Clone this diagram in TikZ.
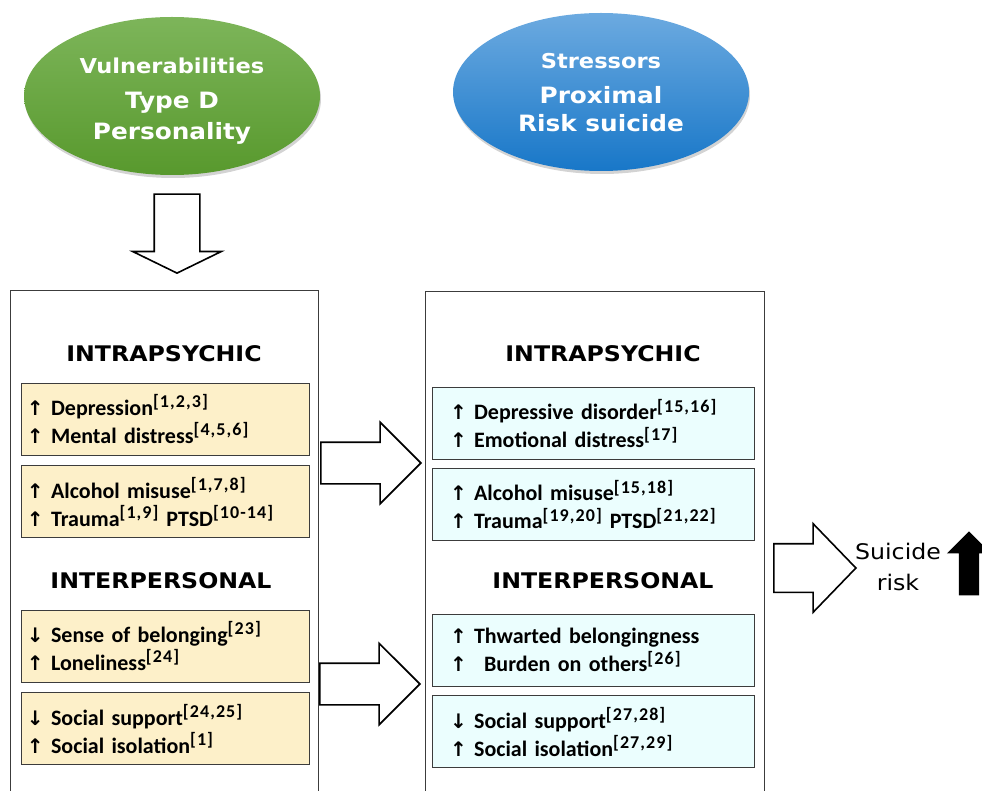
\documentclass[tikz,border=0pt]{standalone}
\usepackage{fontspec}
\setmainfont{Carlito}
\newfontfamily\verdfont{DejaVu Sans}[FakeStretch=1.1]
\newfontfamily\arrfont{DejaVu Sans}
\newfontfamily\supfont{Carlito}[LetterSpace=6]
\usetikzlibrary{positioning, shapes.geometric, shapes.arrows, shadows}
\definecolor{ovgreenA}{HTML}{7DB55A}
\definecolor{ovgreenB}{HTML}{58992D}
\definecolor{ovblueA}{HTML}{6CAAE0}
\definecolor{ovblueB}{HTML}{1877C8}
\definecolor{itemyel}{HTML}{FDF0C9}
\definecolor{itemcyan}{HTML}{EBFEFE}
\definecolor{framegray}{HTML}{3C3C3C}
\newcommand{\uarr}{{\arrfont\bfseries\fontsize{20}{28}\selectfont ↑}}
\newcommand{\darr}{{\arrfont\bfseries\fontsize{20}{28}\selectfont ↓}}
\newcommand{\refsup}[1]{\textsuperscript{\supfont\bfseries\fontsize{18}{18}\selectfont[#1]}}
\tikzset{
  oval/.style   = {ellipse, minimum width=296pt, minimum height=158pt, align=center,
                   text=white, font=\verdfont\bfseries\fontsize{22.5}{30}\selectfont,
                   drop shadow={shadow xshift=1pt, shadow yshift=-3pt, opacity=.35}},
  goval/.style  = {oval, top color=ovgreenA, bottom color=ovgreenB},
  boval/.style  = {oval, top color=ovblueA, bottom color=ovblueB},
  colbox/.style = {draw=framegray, line width=1.3pt, anchor=north west,
                   minimum height=520pt},
  hdr/.style    = {font=\verdfont\bfseries\fontsize{21.5}{26}\selectfont},
  item/.style   = {draw=framegray, line width=0.9pt, minimum height=72pt, align=left,
                   font=\bfseries\fontsize{22}{28}\selectfont},
  yitem/.style  = {item, fill=itemyel, text width=276pt, inner xsep=6pt},
  citem/.style  = {item, fill=itemcyan, text width=286pt, inner xsep=18pt},
  harrow/.style = {single arrow, draw, line width=1.6pt, fill=white, inner xsep=0pt,
                   inner ysep=20pt, single arrow head extend=20pt,
                   minimum height=100pt, anchor=tip}
}

\begin{document}
\begin{tikzpicture}[x=1pt, y=1pt]
  \useasboundingbox (0,0) rectangle (982,-791);
  % the two ovals
  \node[goval] (vuln) at (172,-96)
    {{\fontsize{20.5}{30}\selectfont\rule{0pt}{25pt}Vulnerabilities}\\[5pt]
     Type D\\[1pt] Personality};
  \node[boval] (stress) at (601,-92)
    {{\fontsize{20.5}{30}\selectfont\rule{0pt}{17pt}Stressors}\\[5pt]
     Proximal\\[-2pt] Risk suicide};
  \node[harrow, shape border rotate=270, inner xsep=22pt, inner ysep=22pt,
        single arrow head extend=21.5pt, single arrow tip angle=128,
        minimum height=79pt] (down) at (177,-274) {};

  % columns
  \node[colbox, minimum width=308pt] (lcol) at (10,-290) {};
  \node[colbox, minimum width=339pt] (rcol) at (425,-291) {};

  % left column
  \node[hdr] (lintra) at (164,-354) {INTRAPSYCHIC};
  \node[yitem] (ldep) at (165,-419)
    {\uarr\ Depression\refsup{1,2,3}\\ \uarr\ Mental distress\refsup{4,5,6}};
  \node[yitem, below=10pt of ldep] (lalc)
    {\uarr\ Alcohol misuse\refsup{1,7,8}\\ \uarr\ Trauma\refsup{1,9} PTSD\refsup{10-14}};
  \node[hdr] (linter) at (161,-581) {INTERPERSONAL};
  \node[yitem] (lbel) at (165,-646)
    {\darr\ Sense of belonging\refsup{23}\\ \uarr\ Loneliness\refsup{24}};
  \node[yitem, below=10pt of lbel] (lsoc)
    {\darr\ Social support\refsup{24,25}\\ \uarr\ Social isolation\refsup{1}};

  % right column
  \node[hdr] (rintra) at (603,-354) {INTRAPSYCHIC};
  \node[citem] (rdep) at (593,-423.5)
    {\uarr\ Depressive disorder\refsup{15,16}\\ \uarr\ Emotional distress\refsup{17}};
  \node[citem, below=8pt of rdep] (ralc)
    {\uarr\ Alcohol misuse\refsup{15,18}\\ \uarr\ Trauma\refsup{19,20} PTSD\refsup{21,22}};
  \node[hdr] (rinter) at (603,-581) {INTERPERSONAL};
  \node[citem] (rbel) at (593,-650)
    {\uarr\ Thwarted belongingness\\ \uarr\ \hspace{10pt}Burden on others\refsup{26}};
  \node[citem, below=9pt of rbel] (rsoc)
    {\darr\ Social support\refsup{27,28}\\ \uarr\ Social isolation\refsup{27,29}};

  % block arrows
  \node[harrow] (toIntra) at (422,-463) {};
  \node[harrow] (toInter) at (421,-684) {};
  \node[harrow, inner ysep=23.5pt, minimum height=82pt,
        single arrow tip angle=92] (toRisk) at (857,-568) {};
  \node[font=\verdfont\fontsize{21.5}{31}\selectfont, align=center] (risk)
    at (898,-567) {Suicide\\ risk};
  \node[single arrow, fill=black, shape border rotate=90, inner xsep=10pt,
        inner ysep=10pt, single arrow head extend=12pt, minimum height=64pt,
        anchor=tip] (riskup) at (969,-531) {};
\end{tikzpicture}
\end{document}
